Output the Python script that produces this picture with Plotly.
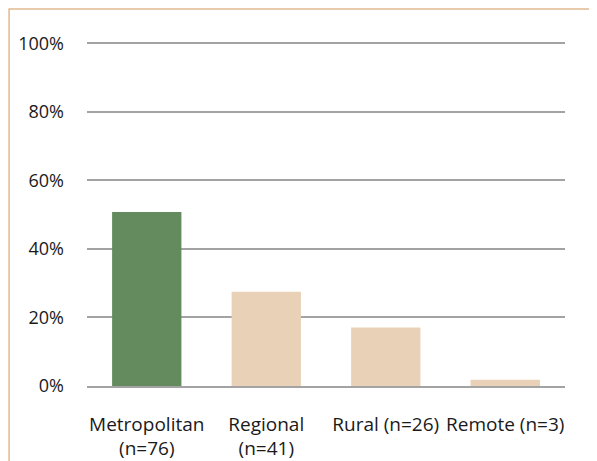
import plotly.graph_objects as go

# data
categories = ['Metropolitan<br>(n=76)', 'Regional<br>(n=41)', 'Rural (n=26)', 'Remote (n=3)']
shares = [0.508, 0.275, 0.171, 0.018]
bar_colors = ['#638B5E', '#E8D1B6', '#E8D1B6', '#E8D1B6']

fig = go.Figure(go.Bar(x=categories, y=shares, marker_color=bar_colors,
                       marker_line_width=0, width=0.58))

# page has an 8px body margin, so the figure is a bit smaller than the window
fig.update_layout(
    width=589, height=453,
    margin=dict(l=79, r=32, t=34, b=75),
    paper_bgcolor='white', plot_bgcolor='white',
    font=dict(family='Open Sans', size=19, color='#1a1a1a'),
    showlegend=False,
)
fig.update_yaxes(range=[0, 1.004], tickvals=[0, 0.2, 0.4, 0.6, 0.8, 1.0],
                 tickformat='.0%', tickfont_size=18,
                 showgrid=True, gridcolor='#A3A3A3', gridwidth=1.5,
                 zeroline=False, ticks='', ticklabelstandoff=22, automargin=False)
fig.update_xaxes(showline=True, linecolor='#A3A3A3', linewidth=1.5,
                 tickfont_size=19, ticks='', ticklabelstandoff=20, automargin=False)

# tan frame around the chart
fig.add_shape(type='rect', xref='paper', yref='paper',
              x0=-0.163, x1=1.3, y0=-0.4, y1=1.096,
              line=dict(color='#E2B98F', width=1.5), layer='below')

fig.write_html('out.html')
